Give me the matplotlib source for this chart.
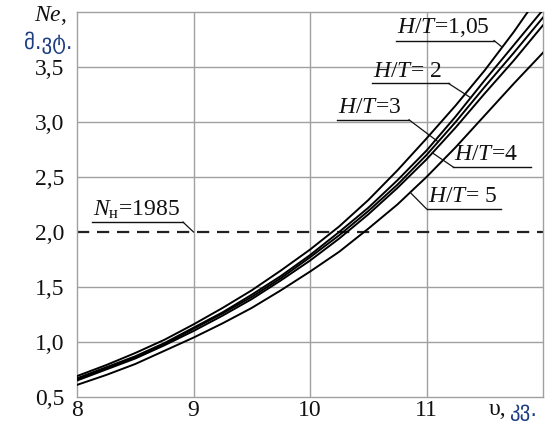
import matplotlib
matplotlib.use("Agg")
import matplotlib.pyplot as plt
import numpy as np

plt.rcParams['font.family'] = ['Liberation Serif', 'DejaVu Serif']
plt.rcParams['mathtext.fontset'] = 'custom'
plt.rcParams['mathtext.rm'] = 'Liberation Serif'
plt.rcParams['mathtext.it'] = 'Liberation Serif:italic'

# ---- data ----
speed = [8.0, 8.25, 8.5, 8.75, 9.0, 9.25, 9.5, 9.75, 10.0, 10.25, 10.5, 10.75,
         11.0, 11.25, 11.5, 11.75, 12.0]
ne_ht_105 = [0.69, 0.79, 0.90, 1.02, 1.16, 1.31, 1.47, 1.65, 1.84, 2.05, 2.29, 2.56,
             2.85, 3.15, 3.47, 3.82, 4.20]
ne_ht_2 = [0.67, 0.77, 0.87, 0.99, 1.13, 1.27, 1.43, 1.60, 1.79, 2.00, 2.22, 2.47,
           2.74, 3.05, 3.38, 3.70, 4.02]
ne_ht_3 = [0.66, 0.76, 0.86, 0.98, 1.12, 1.26, 1.41, 1.58, 1.77, 1.97, 2.19, 2.43,
           2.70, 3.00, 3.32, 3.63, 3.95]
ne_ht_4 = [0.65, 0.75, 0.85, 0.97, 1.10, 1.24, 1.39, 1.56, 1.74, 1.94, 2.16, 2.40,
           2.66, 2.95, 3.26, 3.56, 3.88]
ne_ht_5 = [0.61, 0.70, 0.80, 0.92, 1.04, 1.17, 1.31, 1.47, 1.64, 1.82, 2.03, 2.25,
           2.50, 2.77, 3.06, 3.35, 3.63]
series = [ne_ht_105, ne_ht_2, ne_ht_3, ne_ht_4, ne_ht_5]
series_labels = ['=1,05', '= 2', '=3', '=4', '= 5']

nominal_power = 2.0
nominal_text = '=1985'

x_ticks = [8, 9, 10, 11]
x_tick_labels = ['8', '9', '10', '11']
y_ticks = [0.5, 1.0, 1.5, 2.0, 2.5, 3.0, 3.5]
y_tick_labels = ['0,5', '1,0', '1,5', '2,0', '2,5', '3,0', '3,5']

# label placement: (text_x0, underline_y, underline_x1, leader_from_end, leader_to_x, leader_to_y)
label_pos = [
    (10.74, 3.74, 11.58, True, 11.65, 3.68),
    (10.53, 3.35, 11.19, True, 11.38, 3.22),
    (10.23, 3.02, 10.85, True, 11.10, 2.82),
    (11.23, 2.59, 11.90, False, 11.05, 2.72),
    (11.00, 2.21, 11.64, False, 10.86, 2.36),
]

fig = plt.figure(figsize=(5.52, 4.21), dpi=100)
ax = fig.add_axes([0.1395, 0.057, 0.8442, 0.9145])
ax.set_xlim(8, 12)
ax.set_ylim(0.5, 4.0)

grid_c = '#a0a0a0'
for xv in x_ticks[1:]:
    ax.axvline(xv, color=grid_c, lw=1.0, zorder=1)
for yv in y_ticks[1:]:
    if yv != nominal_power:
        ax.axhline(yv, color=grid_c, lw=1.0, zorder=1)
for s in ax.spines.values():
    s.set_color(grid_c)
    s.set_linewidth(1.0)

ax.axhline(nominal_power, color='#222222', lw=1.6, ls=(0, (5.5, 3.5)), zorder=2)

for ys in series:
    ax.plot(speed, ys, color='black', lw=1.4, zorder=3)

fs = 17
for lab, (x0, uy, x1, from_end, lx, ly) in zip(series_labels, label_pos):
    ax.text(x0 + 0.01, uy + 0.015, '$H/T$' + lab, fontsize=fs, ha='left', va='bottom',
            color='#111111', zorder=4)
    ax.plot([x0, x1], [uy, uy], color='#111111', lw=1.0, zorder=4)
    sx = x1 if from_end else x0
    ax.plot([sx, lx], [uy, ly], color='#111111', lw=0.9, zorder=4)

# nominal label
ax.text(8.14, 2.10, r'$N_{\mathrm{н}}$' + nominal_text, fontsize=fs, ha='left', va='bottom',
        color='#111111', zorder=4)
ax.plot([8.13, 8.91], [2.09, 2.09], color='#111111', lw=1.0, zorder=4)
ax.plot([8.91, 9.0], [2.09, 2.0], color='#111111', lw=0.9, zorder=4)

ax.set_xticks(x_ticks)
ax.set_xticklabels(x_tick_labels, fontsize=fs)
ax.set_yticks(y_ticks)
ax.set_yticklabels(y_tick_labels, fontsize=fs)
ax.tick_params(length=0, pad=2, colors='#111111')
ax.tick_params(axis='y', pad=9)

# axis labels
fig.text(0.092, 0.935, '$Ne$,', fontsize=fs, ha='center', va='bottom', color='#111111')
fig.text(0.088, 0.872, 'მ.ვტ.', fontsize=15, ha='center', va='bottom', color='#1d3d82',
         family=['DejaVu Sans'])
fig.text(0.885, 0.002, 'υ,', fontsize=fs, ha='left', va='bottom', color='#111111')
fig.text(0.922, 0.0, 'კვ.', fontsize=15, ha='left', va='bottom', color='#1d3d82',
         family=['DejaVu Sans'])

fig.savefig('out.png', dpi=100)
